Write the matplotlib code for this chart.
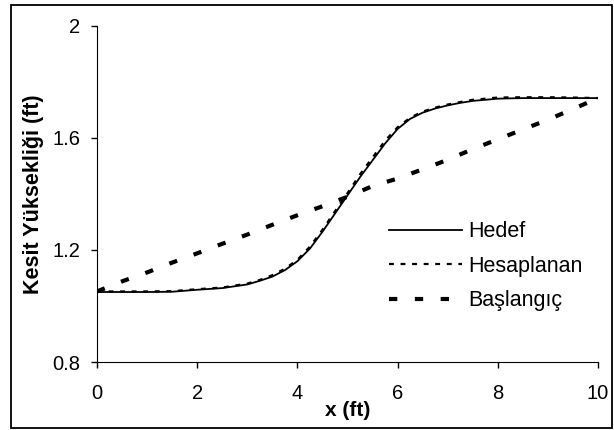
import matplotlib.pyplot as plt
from matplotlib.patches import Rectangle

plt.rcParams['font.family'] = ['Liberation Sans', 'DejaVu Sans']

# Cross-section height profiles along x
x_fine = [0, 0.5, 1.0, 1.5, 2.0, 2.5, 3.0, 3.25, 3.5, 3.75, 4.0, 4.25, 4.5, 4.75,
          5.0, 5.25, 5.5, 5.75, 6.0, 6.25, 6.5, 6.75, 7.0, 7.25, 7.5, 8.0, 8.5,
          9.0, 9.5, 10.0]
hedef = [1.050, 1.050, 1.050, 1.051, 1.058, 1.064, 1.077, 1.090, 1.105, 1.128, 1.160,
         1.205, 1.265, 1.330, 1.395, 1.460, 1.520, 1.580, 1.632, 1.668, 1.690, 1.705,
         1.716, 1.725, 1.732, 1.740, 1.742, 1.742, 1.742, 1.742]
hesaplanan = [1.052, 1.052, 1.052, 1.053, 1.060, 1.066, 1.080, 1.093, 1.110, 1.133, 1.165,
              1.212, 1.272, 1.338, 1.403, 1.470, 1.530, 1.590, 1.638, 1.672, 1.694, 1.708,
              1.719, 1.728, 1.736, 1.744, 1.745, 1.745, 1.744, 1.742]

x_init = [0, 0.5, 1.0, 1.5, 2.0, 2.5, 3.0, 3.5, 4.0, 4.5, 5.0, 5.5,
          6.0, 6.5, 7.0, 7.5, 8.0, 8.5, 9.0, 9.5, 10.0]
baslangic = [1.052, 1.088, 1.120, 1.155, 1.188, 1.222, 1.255, 1.290, 1.324, 1.356, 1.390,
             1.428, 1.455, 1.488, 1.522, 1.560, 1.595, 1.630, 1.665, 1.703, 1.742]

fig = plt.figure(figsize=(6.14, 4.30), dpi=100)
ax = fig.add_axes([0.158, 0.158, 0.816, 0.782])

ax.plot(x_fine, hedef, color='black', lw=1.3, label='Hedef')
ax.plot(x_fine, hesaplanan, color='black', lw=1.6, linestyle=(0, (2.2, 3.0)),
        label='Hesaplanan')
ax.plot(x_init, baslangic, color='black', lw=3.0, linestyle=(0, (2.0, 4.2)),
        label='Başlangıç')

ax.set_xlim(0, 10)
ax.set_ylim(0.8, 2.0)
ax.set_xticks([0, 2, 4, 6, 8, 10])
ax.set_yticks([0.8, 1.2, 1.6, 2.0])
ax.set_yticklabels(['0.8', '1.2', '1.6', '2'])
ax.tick_params(labelsize=14.5, direction='out', length=4, width=1)
ax.tick_params(axis='x', pad=12)
ax.tick_params(axis='y', pad=8)
ax.spines['top'].set_visible(False)
ax.spines['right'].set_visible(False)

ax.set_xlabel('x (ft)', fontsize=15, fontweight='bold', labelpad=-2)
ax.set_ylabel('Kesit Yüksekliği (ft)', fontsize=15.5, fontweight='bold', labelpad=6)

ax.legend(loc='center left', bbox_to_anchor=(0.545, 0.285), frameon=False,
          fontsize=15.5, handlelength=3.35, handletextpad=0.3, labelspacing=0.62)

# outer frame around the whole chart
fig.patches.append(Rectangle((0.018, 0.005), 0.979, 0.983, transform=fig.transFigure,
                             fill=False, edgecolor='black', lw=1.3))

fig.savefig('out.png', dpi=100)
